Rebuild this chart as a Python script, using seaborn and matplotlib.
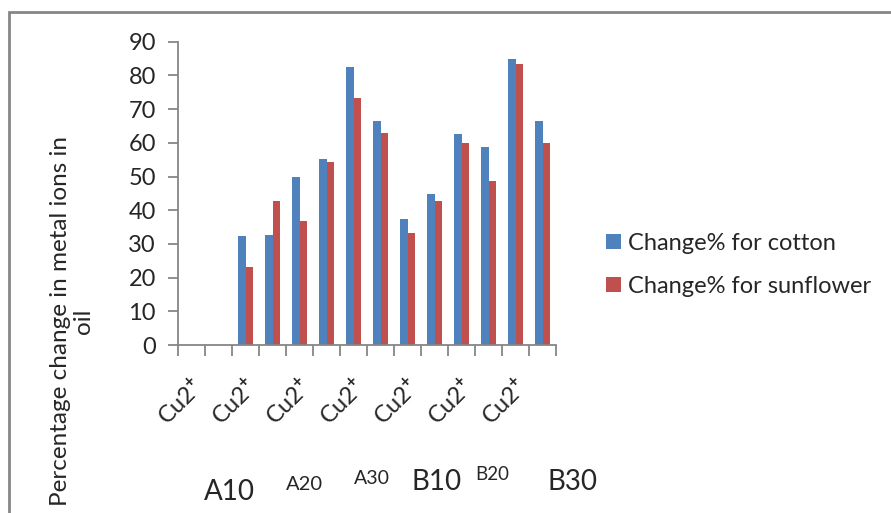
import matplotlib
matplotlib.use("Agg")
import matplotlib.pyplot as plt
import seaborn as sns
import numpy as np
import pandas as pd
from matplotlib.patches import Rectangle

# categories (14 slots, the first two hold no data)
samples = [f"s{i}" for i in range(1, 15)]
cotton = [np.nan, np.nan, 32.4, 32.7, 50.0, 55.2, 82.5, 66.4, 37.4, 44.8, 62.5, 58.9, 85.0, 66.4]
sunflower = [np.nan, np.nan, 23.2, 42.8, 36.7, 54.3, 73.3, 62.9, 33.2, 42.8, 59.9, 48.6, 83.4, 59.9]
series = ["Change% for cotton", "Change% for sunflower"]
tick_text = "Cu2$^{\\mathbf{+}}$"
group_labels = ["A10", "A20", "A30", "B10", "B20", "B30"]

df = pd.DataFrame({
    "sample": samples * 2,
    "change": cotton + sunflower,
    "oil": [series[0]] * 14 + [series[1]] * 14,
})

sns.set_style("white")
plt.rcParams["font.family"] = ["Lato", "DejaVu Sans"]
plt.rcParams["mathtext.fontset"] = "custom"
plt.rcParams["mathtext.rm"] = "Lato"
plt.rcParams["mathtext.bf"] = "Lato:bold"

W, H = 891, 513
fig = plt.figure(figsize=(W / 100, H / 100), dpi=100)
ax = fig.add_axes([178 / W, 1 - 345 / H, (556 - 178) / W, (345 - 41.7) / H])

sns.barplot(data=df, x="sample", y="change", hue="oil", order=samples,
            hue_order=series, palette=["#4F81BD", "#C0504D"], saturation=1,
            width=0.57, gap=0, ax=ax, edgecolor="none", linewidth=0)

axis_col = "#868686"
ax.set_ylim(0, 90)
ax.set_xlim(-0.5, 13.5)
ax.set_yticks(range(0, 91, 10))
ax.tick_params(axis="y", direction="out", length=7, color=axis_col, width=1.3,
               labelsize=17, pad=9, left=True)
ax.set_xticks(range(0, 14, 2))
ax.set_xticklabels([tick_text] * 7, rotation=45, ha="right", rotation_mode="anchor",
                   fontsize=17)
ax.set_xticks(np.arange(-0.5, 14, 1), minor=True)
ax.tick_params(axis="x", which="major", length=0, pad=21)
ax.tick_params(axis="x", which="minor", direction="out", length=8, color=axis_col,
               width=1.3, bottom=True)
ax.set_xlabel("")
ax.set_ylabel("")
for s in ["top", "right"]:
    ax.spines[s].set_visible(False)
for s in ["left", "bottom"]:
    ax.spines[s].set_color(axis_col)
    ax.spines[s].set_linewidth(1.3)

# legend
handles, labels = ax.get_legend_handles_labels()
ax.legend(handles, labels, loc="center left", bbox_to_anchor=(597 / W, 1 - 265 / H),
          bbox_transform=fig.transFigure, frameon=False, fontsize=17,
          handlelength=0.6, handleheight=0.6, handletextpad=0.3, labelspacing=0.95,
          borderaxespad=0)

# y label
fig.text(72 / W, 1 - 321 / H, "Percentage change in metal ions in\noil", rotation=90,
         ha="center", va="center", multialignment="center", fontsize=17.5,
         linespacing=1.15)

# group labels typed below the chart
lab_pos = [(229, 492, 20), (304, 485, 14.5), (372, 478, 14), (437, 482, 20), (492, 475, 13.5), (573, 482, 20)]
for lab, (px, py, fs) in zip(group_labels, lab_pos):
    fig.text(px / W, 1 - py / H, lab, ha="center", va="center", fontsize=fs)

# chart area border
fig.patches.append(Rectangle((9 / W, -0.1), 2, 1 - 12 / H + 0.1, transform=fig.transFigure,
                             fill=False, edgecolor=axis_col, linewidth=2))

fig.savefig("out.png", dpi=100)
